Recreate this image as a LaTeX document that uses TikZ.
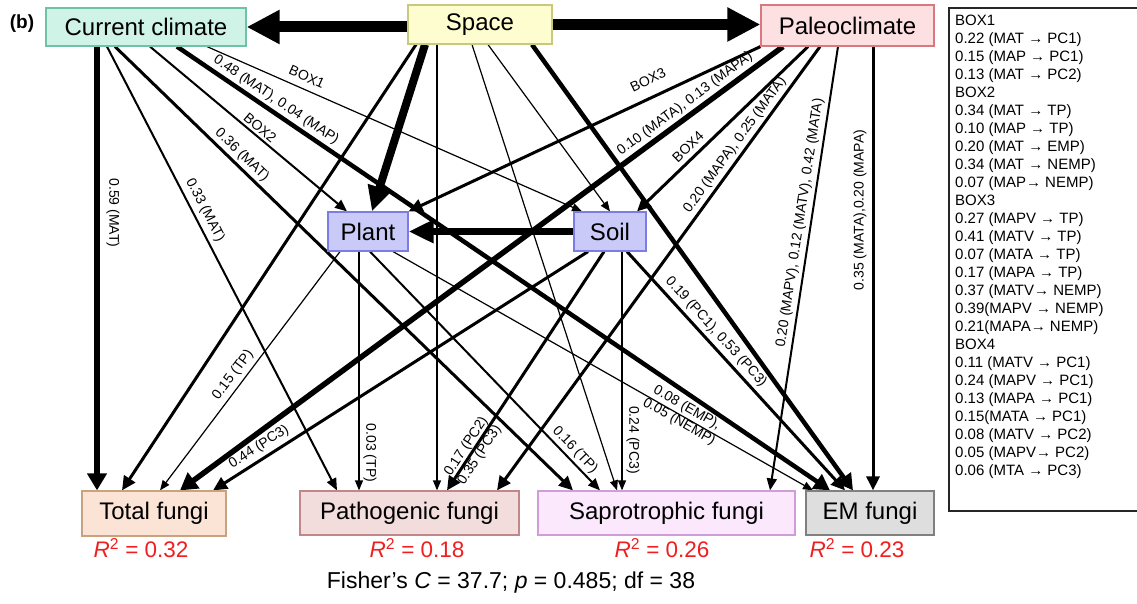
\documentclass[tikz,border=0pt]{standalone}
\usepackage{fontspec}
\setmainfont{Liberation Sans}
\usetikzlibrary{arrows.meta}
\pgfdeclarelayer{bg}
\pgfsetlayers{bg,main}
\definecolor{ccfill}{HTML}{CFF3E6}
\definecolor{ccdraw}{HTML}{6FC2A5}
\definecolor{spfill}{HTML}{FDFDCF}
\definecolor{spdraw}{HTML}{C9C97D}
\definecolor{pafill}{HTML}{FDE0E1}
\definecolor{padraw}{HTML}{D9797F}
\definecolor{plfill}{HTML}{C9CAF7}
\definecolor{pldraw}{HTML}{7B7CE5}
\definecolor{tofill}{HTML}{FBE4D5}
\definecolor{todraw}{HTML}{C9A27E}
\definecolor{ptfill}{HTML}{F2DCDC}
\definecolor{ptdraw}{HTML}{C2878A}
\definecolor{safill}{HTML}{FCE8FC}
\definecolor{sadraw}{HTML}{CF9ED6}
\definecolor{emfill}{HTML}{DEDEDE}
\definecolor{emdraw}{HTML}{808080}
\definecolor{rred}{HTML}{F01E1E}
\begin{document}
\begin{tikzpicture}[x=1pt,y=-1pt,
  box/.style={draw, line width=1.2pt, inner sep=0pt, font=\fontsize{24}{27}\selectfont},
  lab/.style={font=\fontsize{14}{16}\selectfont, inner sep=0pt},
  rsq/.style={font=\fontsize{22.5}{24}\selectfont, text=rred, inner sep=0pt},
  e1/.style={line width=1.2pt,-{Triangle[length=10pt,width=8pt]}},
  e2/.style={line width=2pt,-{Triangle[length=12pt,width=10pt]}},
  e3/.style={line width=3pt,-{Triangle[length=14pt,width=13pt]}},
  e4/.style={line width=4.5pt,-{Triangle[length=16pt,width=17pt]}},
  e5/.style={line width=5.5pt,-{Triangle[length=17pt,width=19pt]}},
]
\useasboundingbox (0,0) rectangle (1137,604);
% main nodes
\node[box, fill=ccfill, draw=ccdraw, minimum width=200pt, minimum height=38pt] (cc) at (146,27) {Current climate};
\node[box, fill=spfill, draw=spdraw, minimum width=144pt, minimum height=39pt] (space) at (480,24.5) {Space};
\node[box, fill=pafill, draw=padraw, minimum width=173pt, minimum height=41pt] (paleo) at (847.5,25.5) {Paleoclimate};
\node[box, fill=plfill, draw=pldraw, minimum width=80pt, minimum height=39pt] (plant) at (368,231.5) {Plant};
\node[box, fill=plfill, draw=pldraw, minimum width=72pt, minimum height=39pt] (soil) at (610,231.5) {Soil};
\node[box, fill=tofill, draw=todraw, minimum width=144pt, minimum height=45pt] (total) at (154,513.5) {Total fungi};
\node[box, fill=ptfill, draw=ptdraw, minimum width=219pt, minimum height=44pt] (patho) at (409.5,513) {Pathogenic fungi};
\node[box, fill=safill, draw=sadraw, minimum width=257pt, minimum height=44pt] (sapro) at (666.5,513) {Saprotrophic fungi};
\node[box, fill=emfill, draw=emdraw, minimum width=128pt, minimum height=44pt] (em) at (870,513) {EM fungi};
\node[font=\bfseries\fontsize{19}{22}\selectfont, inner sep=0pt] (b) at (22,24) {(b)};
% connectors
\begin{pgfonlayer}{bg}
\draw[line width=11pt,-{Triangle[length=33pt,width=32pt]}] (cc.east -| space.west) -- (cc.east);
\draw[line width=11pt,-{Triangle[length=33pt,width=32pt]}] (space.east) -- (paleo.west |- space.east);
\draw[line width=8pt,-{Triangle[length=25pt,width=23pt]}] ([xshift=-55pt]space.south) -- ([xshift=4pt]plant.north);
\draw[line width=7pt,-{Triangle[length=25pt,width=22pt]}] (soil.west) -- (plant.east);
% from current climate
\draw[e5] ([xshift=-49pt]cc.south) -- ([xshift=-57pt]total.north);
\draw[e2] ([xshift=-39pt]cc.south) -- ([xshift=-72.5pt]patho.north);
\draw[e3] ([xshift=-31pt]cc.south) -- ([xshift=-93.5pt]sapro.north);
\draw[e2] ([xshift=4pt]cc.south) -- ([xshift=-21pt]plant.north);
\draw[e4] ([xshift=31pt]cc.south) -- ([xshift=-40pt]em.north);
\draw[e1] ([xshift=61pt]cc.south) -- ([xshift=-28pt]soil.north);
% from space
\draw[e3] ([xshift=-64pt]space.south) -- ([xshift=-32pt]total.north);
\draw[e1] ([xshift=-43pt]space.south) -- ([xshift=27.5pt]patho.north);
\draw[e1] ([xshift=-8pt]space.south) -- ([xshift=-49.5pt]sapro.north);
\draw[e1] ([xshift=8pt]space.south) -- (soil.north);
\draw[e4] ([xshift=52pt]space.south) -- ([xshift=-17pt]em.north);
% from paleoclimate
\draw[e3] (paleo.south west) -- (plant.north east);
\draw[e5] ([xshift=-64.5pt]paleo.south) -- ([xshift=26pt]total.north);
\draw[e3] ([xshift=-39.5pt]paleo.south) -- ([xshift=27pt]soil.north);
\draw[e3] ([xshift=-27.5pt]paleo.south) -- ([xshift=87.5pt]patho.north);
\draw[e2] ([xshift=-9.5pt]paleo.south) -- ([xshift=103.5pt]sapro.north);
\draw[e3] ([xshift=25.5pt]paleo.south) -- ([xshift=3pt]em.north);
% from plant
\draw[e1] ([xshift=-28pt]plant.south) -- ([xshift=6pt]total.north);
\draw[e1] ([xshift=-9pt]plant.south) -- ([xshift=-50.5pt]patho.north);
\draw[e2] ([xshift=2pt]plant.south) -- ([xshift=-66.5pt]sapro.north);
\draw[e1] ([xshift=25pt]plant.south) -- ([xshift=-57pt]em.north);
% from soil
\draw[e3] ([xshift=-22pt]soil.south) -- ([xshift=59pt]total.north);
\draw[e3] ([xshift=-6pt]soil.south) -- ([xshift=37.5pt]patho.north);
\draw[e1] ([xshift=12pt]soil.south) -- ([xshift=-44.5pt]sapro.north);
\draw[e3] ([xshift=17pt]soil.south) -- ([xshift=-25pt]em.north);
\end{pgfonlayer}
% labels
\node[lab, rotate=-90] (l1) at (113,213) {0.59 (MAT)};
\node[lab, rotate=-62.7] (l2) at (205,210) {0.33 (MAT)};
\node[lab, rotate=-44] (l3) at (242,155) {0.36 (MAT)};
\node[lab, rotate=-40] (l4) at (260,128) {BOX2};
\node[lab, rotate=-34] (l5) at (276,100) {0.48 (MAT), 0.04 (MAP)};
\node[lab, rotate=-24] (l6) at (307,77) {BOX1};
\node[lab, rotate=25.6] (l7) at (648,80) {BOX3};
\node[lab, rotate=36.4] (l8) at (685,104) {0.10 (MATA), 0.13 (MAPA)};
\node[lab, rotate=44] (l9) at (688,147) {BOX4};
\node[lab, rotate=54] (l10) at (735,145) {0.20 (MAPA), 0.25 (MATA)};
\node[lab, rotate=81.3] (l11) at (800,223) {0.20 (MAPV), 0.12 (MATV), 0.42 (MATA)};
\node[lab, rotate=90] (l12) at (860,210) {0.35 (MATA),0.20 (MAPA)};
\node[lab, rotate=53] (l13) at (233,375) {0.15 (TP)};
\node[lab, rotate=-90] (l14) at (370,453) {0.03 (TP)};
\node[lab, rotate=32.6] (l15) at (259,447) {0.44 (PC3)};
\node[lab, rotate=56.8, align=center] (l16) at (473,451) {0.17 (PC2)\\0.35 (PC3)};
\node[lab, rotate=-46.2] (l17) at (575,450) {0.16 (TP)};
\node[lab, rotate=-90] (l18) at (633,440) {0.24 (PC3)};
\node[lab, rotate=-29.7, align=center] (l19) at (683,415) {0.08 (EMP),\\0.05 (NEMP)};
\node[lab, rotate=-47.7] (l20) at (716,332) {0.19 (PC1), 0.53 (PC3)};
% R squared and statistics
\node[rsq] (r1) at (141,548) {\textit{R}\textsuperscript{2} = 0.32};
\node[rsq] (r2) at (417,548) {\textit{R}\textsuperscript{2} = 0.18};
\node[rsq] (r3) at (662,548) {\textit{R}\textsuperscript{2} = 0.26};
\node[rsq] (r4) at (857,548) {\textit{R}\textsuperscript{2} = 0.23};
\node[font=\fontsize{23}{25}\selectfont, inner sep=0pt] (fisher) at (511,583) {Fisher's \textit{C} = 37.7; \textit{p} = 0.485; df = 38};
% legend box
\node[draw=black!85, line width=1.6pt, minimum width=200pt, minimum height=503pt, anchor=north west, inner sep=0pt] (lbox) at (948,7) {};
\node[anchor=north west, align=left, inner sep=0pt, font=\fontsize{15}{18}\selectfont] (legend) at (955,14.5) {BOX1\\
0.22 (MAT → PC1)\\
0.15 (MAP → PC1)\\
0.13 (MAT → PC2)\\
BOX2\\
0.34 (MAT → TP)\\
0.10 (MAP → TP)\\
0.20 (MAT → EMP)\\
0.34 (MAT → NEMP)\\
0.07 (MAP→ NEMP)\\
BOX3\\
0.27 (MAPV → TP)\\
0.41 (MATV → TP)\\
0.07 (MATA → TP)\\
0.17 (MAPA → TP)\\
0.37 (MATV→ NEMP)\\
0.39(MAPV → NEMP)\\
0.21(MAPA→ NEMP)\\
BOX4\\
0.11 (MATV → PC1)\\
0.24 (MAPV → PC1)\\
0.13 (MAPA → PC1)\\
0.15(MATA → PC1)\\
0.08 (MATV → PC2)\\
0.05 (MAPV→ PC2)\\
0.06 (MTA → PC3)};
\end{tikzpicture}
\end{document}
